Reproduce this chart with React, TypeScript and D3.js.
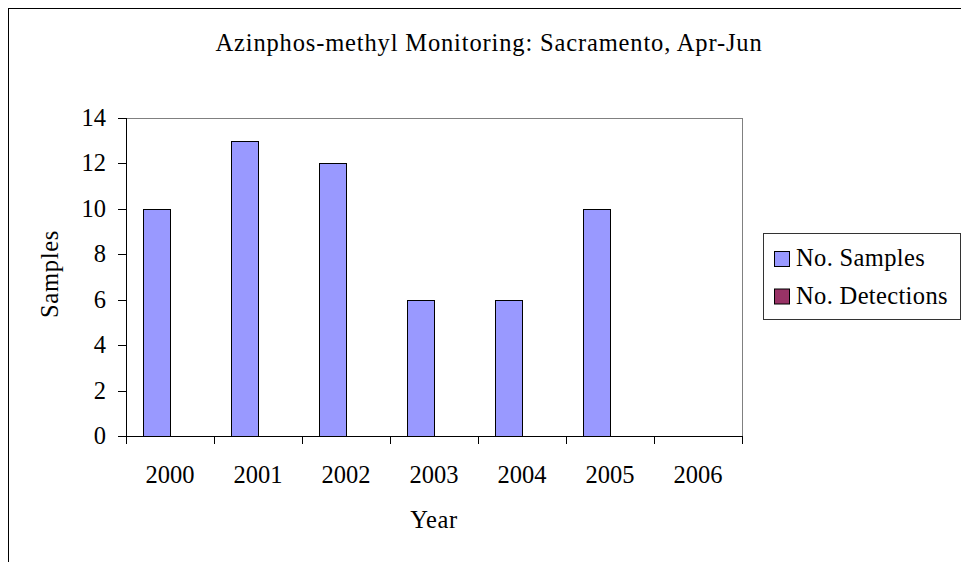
import React from "react";
import * as d3 from "d3";

// chart data
const years = ["2000", "2001", "2002", "2003", "2004", "2005", "2006"];
const samples = [10, 13, 12, 6, 6, 10, 0];
const detections = [0, 0, 0, 0, 0, 0, 0];
const seriesNames = ["No. Samples", "No. Detections"];
const seriesColors = ["#9999FF", "#993366"];
const yTicks = [0, 2, 4, 6, 8, 10, 12, 14];

const font = "Liberation Serif, Times New Roman, DejaVu Serif, serif";

const App = () => {
  // plot area, page coordinates
  const left = 126;
  const right = 742;
  const top = 118;
  const bottom = 436;

  const x = d3.scaleBand<string>().domain(years).range([left, right]);
  const sub = d3
    .scaleBand<number>()
    .domain([0, 1])
    .range([17, x.bandwidth() - 17]);
  const y = d3.scaleLinear().domain([0, 14]).range([bottom, top]);

  const series = [samples, detections];
  const txt = { fontFamily: font, fontSize: "24.5px" };

  return (
    <svg
      width={961}
      height={562}
      style={{ position: "absolute", left: 0, top: 0, display: "block" }}
    >
      <rect x={8.5} y={8.5} width={1100} height={700} fill="white" stroke="black" />
      <text x={489} y={51} textAnchor="middle" style={{ ...txt, letterSpacing: "0.85px" }}>
        Azinphos-methyl Monitoring: Sacramento, Apr-Jun
      </text>

      {/* plot area */}
      <line x1={left} x2={right + 0.5} y1={top + 0.5} y2={top + 0.5} stroke="#808080" />
      <line x1={right + 0.5} x2={right + 0.5} y1={top} y2={bottom} stroke="#808080" />

      {series.map((vals, si) =>
        vals.map((v, i) =>
          v > 0 ? (
            <rect
              key={`${si}-${i}`}
              x={(x(years[i]) as number) + (sub(si) as number) + 0.5}
              y={Math.round(y(v)) + 0.5}
              width={sub.bandwidth()}
              height={Math.round(y(0)) - Math.round(y(v))}
              fill={seriesColors[si]}
              stroke="black"
            />
          ) : null
        )
      )}

      {/* y axis */}
      <line x1={left + 0.5} x2={left + 0.5} y1={top} y2={bottom + 0.5} stroke="black" />
      {yTicks.map((t) => (
        <g key={t}>
          <line
            x1={left - 8}
            x2={left}
            y1={Math.round(y(t)) + 0.5}
            y2={Math.round(y(t)) + 0.5}
            stroke="black"
          />
          <text x={106} y={y(t) + 8} textAnchor="end" style={txt}>
            {t}
          </text>
        </g>
      ))}

      {/* x axis */}
      <line x1={left} x2={right + 1} y1={bottom + 0.5} y2={bottom + 0.5} stroke="black" />
      {[...years.map((yr) => x(yr) as number), right].map((px, i) => (
        <line key={i} x1={px + 0.5} x2={px + 0.5} y1={bottom} y2={bottom + 8} stroke="black" />
      ))}
      {years.map((yr) => (
        <text
          key={yr}
          x={(x(yr) as number) + x.bandwidth() / 2}
          y={483}
          textAnchor="middle"
          style={txt}
        >
          {yr}
        </text>
      ))}

      <text x={434} y={528} textAnchor="middle" style={{ ...txt, letterSpacing: "0.6px" }}>
        Year
      </text>
      <text
        transform="translate(58,274) rotate(-90)"
        textAnchor="middle"
        style={{ ...txt, letterSpacing: "0.7px" }}
      >
        Samples
      </text>

      {/* legend */}
      <rect x={763.5} y={233.5} width={197} height={86} fill="white" stroke="#333" />
      {seriesNames.map((name, i) => (
        <g key={name}>
          <rect
            x={774.5}
            y={251.5 + i * 37.5}
            width={15}
            height={15}
            fill={seriesColors[i]}
            stroke="black"
          />
          <text x={796} y={266 + i * 38} style={{ ...txt, letterSpacing: "0.35px" }}>
            {name}
          </text>
        </g>
      ))}
    </svg>
  );
};

export default App;
